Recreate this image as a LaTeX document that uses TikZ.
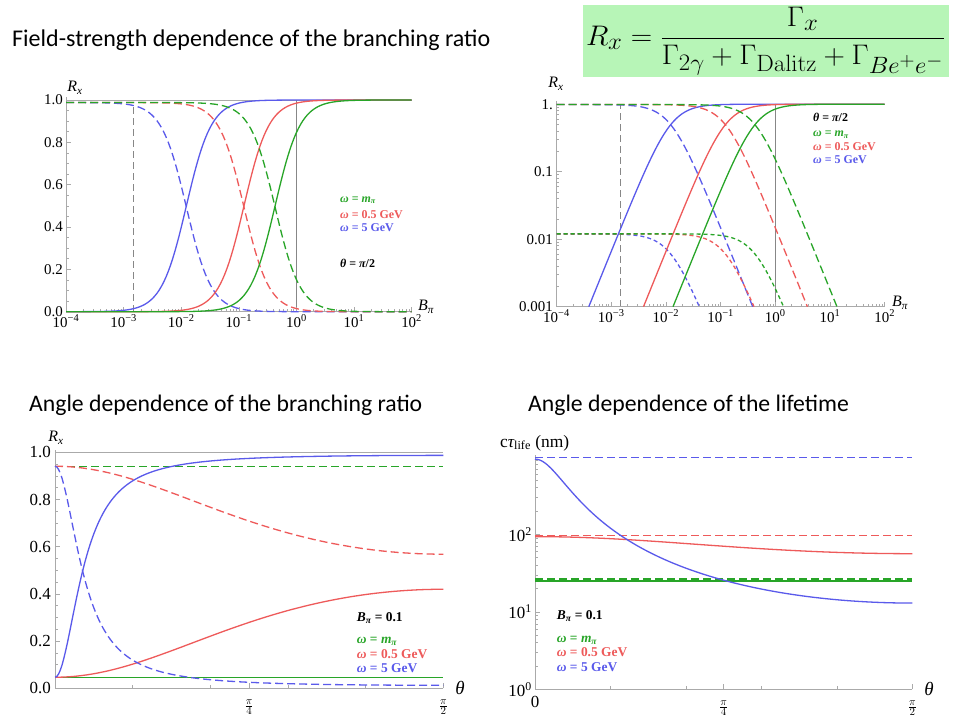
\documentclass[tikz,border=0pt]{standalone}
\usepackage[no-math]{fontspec}
\usepackage{graphicx}
\setmainfont{Carlito}
\newfontfamily\tms{Liberation Serif}
\DeclareMathSizes{27}{27}{22}{17}
\definecolor{cg}{RGB}{40,165,40}
\definecolor{cr}{RGB}{238,90,90}
\definecolor{cb}{RGB}{90,90,235}
\definecolor{axc}{RGB}{170,170,170}
\definecolor{vl}{RGB}{135,135,135}
\definecolor{boxg}{RGB}{183,245,183}
\newcommand{\legWm}{{\itshape ω} = {\itshape m}\textsubscript{\itshape π}}
\newcommand{\legWa}{{\itshape ω} = 0.5 GeV}
\newcommand{\legWb}{{\itshape ω} = 5 GeV}
\newcommand{\legTh}{{\itshape θ} = {\itshape π}/2}
\newcommand{\legB}{{\itshape B}\textsubscript{\itshape π} = 0.1}
\newcommand{\dec}[1]{10\textsuperscript{#1}}
\tikzset{
  curve/.style={line width=1.3bp},
  hline/.style={line width=1.7bp},
  ldash/.style={dash pattern=on 8bp off 4bp},
  sdash/.style={dash pattern=on 4bp off 3bp},
  vdash/.style={dash pattern=on 7bp off 4bp},
  axisline/.style={draw=axc, line width=0.8bp},
  tickline/.style={draw=axc, line width=0.6bp},
  ticklab/.style={font=\tms\fontsize{15}{15}\selectfont, inner sep=1pt},
  ticklabB/.style={font=\tms\fontsize{17}{17}\selectfont, inner sep=1pt},
  axlab/.style={font=\tms\fontsize{16}{16}\selectfont, inner sep=0pt},
  legS/.style={font=\tms\bfseries\fontsize{12}{12}\selectfont, anchor=base west, inner sep=0pt},
  legL/.style={font=\tms\bfseries\fontsize{13.5}{13.5}\selectfont, anchor=base west, inner sep=0pt},
  title/.style={font=\fontsize{23.8}{24}\selectfont, anchor=base west, inner sep=0pt},
  grayline/.style={draw=vl, line width=0.8bp}
}
\begin{document}
\begin{tikzpicture}[x=1bp,y=-1bp]
\useasboundingbox (0,0) rectangle (960,720);
\fill[white] (0,0) rectangle (960,720);

% ---------- titles ----------
\node[title, font=\fontsize{24.1}{24}\selectfont] (t1) at (12,47) {Field-strength dependence of the branching ratio};
\node[title] (t3) at (29,411.7) {Angle dependence of the branching ratio};
\node[title] (t4) at (528,411.7) {Angle dependence of the lifetime};

% ---------- formula ----------
\fill[boxg] (583,5) rectangle (949,77);
\node[inner sep=0pt] (formula) at (765.5,41) {\resizebox*{359bp}{68bp}{\fontsize{27}{32}\selectfont $\displaystyle R_x=\frac{\Gamma_x}{\Gamma_{2\gamma}+\Gamma_{\mathrm{Dalitz}}+\Gamma_{Be^+e^-}}$}};

% =========== PANEL 1 ===========
\draw[grayline, draw=axc] (66,100) -- (411.6,100);
\draw[grayline] (296.5,311.7) -- (296.5,100);
\draw[grayline, vdash] (133.5,311.7) -- (133.5,103);
\draw[axisline] (66,311.7) -- (411.6,311.7);
\draw[axisline] (66,311.7) -- (66,97);
\foreach \k in {0,...,6} \draw[tickline] ({66+57.6*\k},311.7) -- ++(0,-5);
\foreach \k in {0,...,5} \foreach \m in {2,...,9}
  \draw[tickline] ({66+57.6*(\k+ln(\m)/2.302585)},311.7) -- ++(0,-2.5);
\foreach \v in {0,1,...,20} \draw[tickline] (66,{311.7-10.585*\v}) -- ++(2.5,0);
\foreach \v in {0,...,5} \draw[tickline] (66,{311.7-42.34*\v}) -- ++(5,0);
\foreach \v/\t in {0/0.0,1/0.2,2/0.4,3/0.6,4/0.8,5/1.0}
  \node[ticklab, anchor=east] (p1y\v) at (64,{311.7-42.34*\v}) {\t};
\foreach \k/\t in {0/−4,1/−3,2/−2,3/−1,4/0,5/1,6/2}
  \node[ticklab, anchor=base] (p1x\k) at ({66+57.6*\k},327) {\dec{\t}};
\node[axlab] (p1R) at (75,88) {{\itshape R}\textsubscript{\itshape x}};
\node[axlab, anchor=west] (p1B) at (418,307) {{\itshape B}\textsubscript{\itshape π}};
\foreach \c/\u in {cb/-1.91, cr/-0.91, cg/-0.37} {
  \draw[curve,\c] plot[domain=-4:2, samples=160]
    ({66+57.6*(\x+4)}, {311.7-211.7/(1+exp(-2.302585*max(-4,min(4,2*(\x-(\u))))))});
  \draw[curve,\c,ldash] plot[domain=-4:2, samples=160]
    ({66+57.6*(\x+4)}, {311.7-211.7*0.988/(1+exp(2.302585*max(-4,min(4,2*(\x-(\u))))))});
}
\node[legS, cg] (p1l1) at (340,202) {\legWm};
\node[legS, cr] (p1l2) at (340,218) {\legWa};
\node[legS, cb] (p1l3) at (340,231) {\legWb};
\node[legS, black] (p1l4) at (340,267) {\legTh};

% =========== PANEL 2 ===========
\draw[grayline] (775.5,306.7) -- (775.5,104.3);
\draw[grayline, vdash] (620.5,306.7) -- (620.5,104.3);
\draw[axisline] (556.5,306.7) -- (884.5,306.7);
\draw[axisline] (556.5,306.7) -- (556.5,101);
\foreach \k in {0,...,6} \draw[tickline] ({556.5+54.7*\k},306.7) -- ++(0,-5);
\foreach \k in {0,...,5} \foreach \m in {2,...,9}
  \draw[tickline] ({556.5+54.7*(\k+ln(\m)/2.302585)},306.7) -- ++(0,-2.5);
\foreach \k in {0,...,3} \draw[tickline] (556.5,{306.7-67.5*\k}) -- ++(5,0);
\foreach \k in {0,...,2} \foreach \m in {2,...,9}
  \draw[tickline] (556.5,{306.7-67.5*(\k+ln(\m)/2.302585)}) -- ++(2.5,0);
\foreach \k/\t in {0/0.001,1/0.01,2/0.1,3/1.}
  \node[ticklab, anchor=east] (p2y\k) at (554,{306.7-67.5*\k}) {\t};
\foreach \k/\t in {0/−4,1/−3,2/−2,3/−1,4/0,5/1,6/2}
  \node[ticklab, anchor=base] (p2x\k) at ({556.5+54.7*\k},322) {\dec{\t}};
\node[axlab] (p2R) at (556,84) {{\itshape R}\textsubscript{\itshape x}};
\node[axlab, anchor=west] (p2B) at (892,303) {{\itshape B}\textsubscript{\itshape π}};
\foreach \c/\u in {cb/-1.91, cr/-0.91, cg/-0.37} {
  \draw[curve,\c] plot[domain={\u-1.5}:{\u+2}, samples=120]
    ({556.5+54.7*(\x+4)}, {306.7-67.5*(3-ln(1+exp(-4.60517*(\x-(\u))))/2.302585)})
    -- ({556.5+54.7*6},104.3);
  \draw[curve,\c,ldash] ({556.5},{306.7-67.5*(3-0.00524)}) -- plot[domain={\u-2}:{min(2,\u+1.4975)}, samples=120]
    ({556.5+54.7*(\x+4)}, {306.7-67.5*(3-0.00524-ln(1+exp(4.60517*(\x-(\u))))/2.302585)});
  \draw[curve,\c,sdash] ({556.5},{306.7-67.5*(3-1.9208)}) -- plot[domain={\u-2}:{\u+0.5207}, samples=100]
    ({556.5+54.7*(\x+4)}, {306.7-67.5*(3-1.9208-ln(1+exp(4.60517*(\x-(\u))))/2.302585)});
}
\node[legS, black] (p2l4) at (813,122) {\legTh};
\node[legS, cg] (p2l1) at (813,136.7) {\legWm};
\node[legS, cr] (p2l2) at (813,150.7) {\legWa};
\node[legS, cb] (p2l3) at (813,164) {\legWb};

% =========== PANEL 3 ===========
\draw[grayline, draw=axc] (55,452.5) -- (443.3,452.5);
\draw[axisline] (55,688.3) -- (443.3,688.3);
\draw[axisline] (55,688.3) -- (55,450);
\foreach \d in {18,36,54,72} \draw[tickline] ({55+4.31444*\d},688.3) -- ++(0,-3);
\foreach \d in {45,90} \draw[tickline] ({55+4.31444*\d},688.3) -- ++(0,-5);
\foreach \v in {0,1,...,20} \draw[tickline] (55,{688.3-11.8*\v}) -- ++(2.5,0);
\foreach \v in {0,...,5} \draw[tickline] (55,{688.3-47.2*\v}) -- ++(5,0);
\foreach \v/\t in {0/0.0,1/0.2,2/0.4,3/0.6,4/0.8,5/1.0}
  \node[ticklabB, anchor=east] (p3y\v) at (52,{688.3-47.2*\v}) {\t};
\node[inner sep=0pt] (p3x1) at (249.1,707) {\fontsize{15}{15}\selectfont$\frac{\pi}{4}$};
\node[inner sep=0pt] (p3x2) at (443.3,707) {\fontsize{15}{15}\selectfont$\frac{\pi}{2}$};
\node[axlab] (p3R) at (56,438) {{\itshape R}\textsubscript{\itshape x}};
\node[axlab, font=\tms\fontsize{19}{19}\selectfont] (p3T) at (460,688) {\itshape θ};
\draw[hline,cg] (55,677.5) -- (443.3,677.5);
\draw[hline,cg,ldash] (55,466.5) -- (443.3,466.5);
\foreach \c/\a/\k in {cr/0.656/0.941, cb/72/0.953} {
  \draw[curve,\c] plot[domain=0:90, samples=220]
    ({55+4.31444*\x}, {688.3-236*(0.047+\k*\a*sin(\x)^2/(1+\a*sin(\x)^2))});
  \draw[curve,\c,ldash] plot[domain=0:90, samples=220]
    ({55+4.31444*\x}, {688.3-236*(0.941/(1+\a*sin(\x)^2))});
}
\node[legL, black] (p3l4) at (356.7,621) {\legB};
\node[legL, cg] (p3l1) at (356.7,643.5) {\legWm};
\node[legL, cr] (p3l2) at (356.7,658.5) {\legWa};
\node[legL, cb] (p3l3) at (356.7,672.5) {\legWb};

% =========== PANEL 4 ===========
\draw[axisline] (535,689.3) -- (912.3,689.3);
\draw[axisline] (535,689.3) -- (535,455);
\foreach \d in {18,36,54,72} \draw[tickline] ({535+4.19222*\d},689.3) -- ++(0,-3);
\foreach \d in {45,90} \draw[tickline] ({535+4.19222*\d},689.3) -- ++(0,-5);
\foreach \k in {0,...,2} \draw[tickline] (535,{689.3-77.5*\k}) -- ++(5,0);
\foreach \k in {0,...,2} \foreach \m in {2,...,9}
  \draw[tickline] (535,{689.3-77.5*(\k+ln(\m)/2.302585)}) -- ++(2.5,0);
\foreach \k in {0,1,2}
  \node[ticklabB, anchor=east] (p4y\k) at (533,{689.3-77.5*\k}) {\dec{\k}};
\node[ticklabB] (p4x0) at (535,702) {0};
\node[inner sep=0pt] (p4x1) at (723.6,708) {\fontsize{15}{15}\selectfont$\frac{\pi}{4}$};
\node[inner sep=0pt] (p4x2) at (912.3,708) {\fontsize{15}{15}\selectfont$\frac{\pi}{2}$};
\node[axlab, anchor=base west, font=\tms\fontsize{17.5}{18}\selectfont] (p4L) at (500,447) {c{\itshape τ}\textsubscript{life} (nm)};
\node[axlab, font=\tms\fontsize{19}{19}\selectfont] (p4T) at (929,689) {\itshape θ};
\draw[hline,cb,ldash] (535,457.5) -- (912.3,457.5);
\draw[hline,cr,ldash] (535,535.5) -- (912.3,535.5);
\draw[hline,cg] (535,580.8) -- (912.3,580.8);
\draw[hline,cg,ldash] (535,579.2) -- (912.3,579.2);
\draw[curve,cr] plot[domain=0:90, samples=120]
  ({535+4.19222*\x}, {689.3-77.5*(1.97-ln(1+0.66*sin(\x)^2)/2.302585)});
\draw[curve,cb] plot[domain=0:90, samples=160]
  ({535+4.19222*\x}, {689.3-77.5*(2.97-ln(1+71*sin(\x)^2)/2.302585)});
\node[legL, black] (p4l4) at (556.7,619) {\legB};
\node[legL, cg] (p4l1) at (556.7,642) {\legWm};
\node[legL, cr] (p4l2) at (556.7,656) {\legWa};
\node[legL, cb] (p4l3) at (556.7,671) {\legWb};
\end{tikzpicture}
\end{document}
